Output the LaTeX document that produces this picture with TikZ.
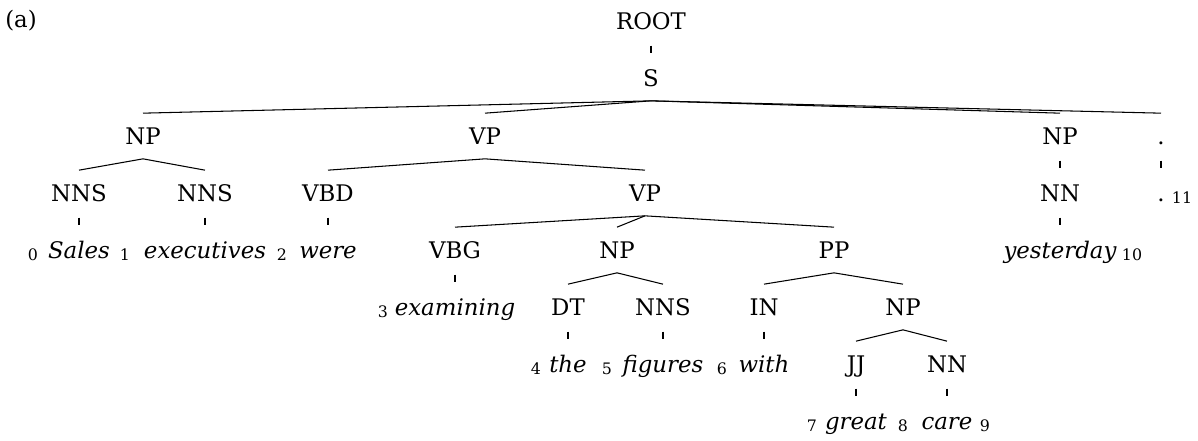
\documentclass[tikz,border=0pt]{standalone}
\usepackage{fontspec}
\setmainfont{DejaVu Serif}
\begin{document}
\begin{tikzpicture}[x=0.02cm, y=-0.02cm, line width=0.6pt,
  cat/.style={font=\fontsize{13}{15}\selectfont, text height=9.4pt, text depth=0pt, inner xsep=2pt, inner ysep=8pt},
  word/.style={cat, font=\fontsize{13}{15}\selectfont\itshape},
  idx/.style={font=\fontsize{9}{10}\selectfont, inner sep=0pt, anchor=base},
  stalk/.style={shorten <=1pt, shorten >=1pt}]
\useasboundingbox (0,0) rectangle (1198,440);
\node (panel) at (21,19) [cat, inner sep=0pt] {(a)};
% categories
\node (root) at (651,21) [cat] {ROOT};
\node (s) at (651,78) [cat] {S};
\node (np1) at (143,136) [cat] {NP};
\node (vp1) at (485,136) [cat] {VP};
\node (np2) at (1060,136) [cat] {NP};
\node (pu) at (1161,136) [cat] {.};
\node (nns1) at (79,193) [cat] {NNS};
\node (nns2) at (205,193) [cat] {NNS};
\node (vbd) at (328,193) [cat] {VBD};
\node (vp2) at (645,193) [cat] {VP};
\node (nn2) at (1060,193) [cat] {NN};
\node (vbg) at (455,250) [cat] {VBG};
\node (np3) at (617,250) [cat] {NP};
\node (pp) at (834,250) [cat] {PP};
\node (dt) at (568,307) [cat] {DT};
\node (nns3) at (663,307) [cat] {NNS};
\node (in) at (764,307) [cat] {IN};
\node (np4) at (903,307) [cat] {NP};
\node (jj) at (856,364) [cat] {JJ};
\node (nn1) at (947,364) [cat] {NN};
% words
\node (w0) at (79,250) [word] {Sales};
\node (w1) at (205,250) [word] {executives};
\node (w2) at (328,250) [word] {were};
\node (w3) at (455,307) [word] {examining};
\node (w4) at (568,364) [word] {the};
\node (w5) at (663,364) [word] {figures};
\node (w6) at (764,364) [word] {with};
\node (w7) at (856,421) [word] {great};
\node (w8) at (947,421) [word] {care};
\node (w9) at (1060,250) [word] {yesterday};
\node (w10) at (1161,193) [cat] {.};
% positions
\node (i0) at (33,260) [idx] {0};
\node (i1) at (125,260) [idx] {1};
\node (i2) at (282,260) [idx] {2};
\node (i3) at (383,317) [idx] {3};
\node (i4) at (536,374) [idx] {4};
\node (i5) at (607,374) [idx] {5};
\node (i6) at (722,374) [idx] {6};
\node (i7) at (812,431) [idx] {7};
\node (i8) at (903,431) [idx] {8};
\node (i9) at (985,431) [idx] {9};
\node (i10) at (1132,260) [idx] {10};
\node (i11) at (1182,203) [idx] {11};
% branches
\draw[stalk] (root.south) -- (s.north);
\draw (s.south) -- (np1.north);
\draw (s.south) -- (vp1.north);
\draw (s.south) -- (np2.north);
\draw (s.south) -- (pu.north);
\draw (np1.south) -- (nns1.north);
\draw (np1.south) -- (nns2.north);
\draw (vp1.south) -- (vbd.north);
\draw (vp1.south) -- (vp2.north);
\draw[stalk] (np2.south) -- (nn2.north);
\draw[stalk] (pu.south) -- (w10.north);
\draw (vp2.south) -- (vbg.north);
\draw (vp2.south) -- (np3.north);
\draw (vp2.south) -- (pp.north);
\draw (np3.south) -- (dt.north);
\draw (np3.south) -- (nns3.north);
\draw (pp.south) -- (in.north);
\draw (pp.south) -- (np4.north);
\draw (np4.south) -- (jj.north);
\draw (np4.south) -- (nn1.north);
% leaves
\draw[stalk] (nns1.south) -- (w0.north);
\draw[stalk] (nns2.south) -- (w1.north);
\draw[stalk] (vbd.south) -- (w2.north);
\draw[stalk] (vbg.south) -- (w3.north);
\draw[stalk] (dt.south) -- (w4.north);
\draw[stalk] (nns3.south) -- (w5.north);
\draw[stalk] (in.south) -- (w6.north);
\draw[stalk] (jj.south) -- (w7.north);
\draw[stalk] (nn1.south) -- (w8.north);
\draw[stalk] (nn2.south) -- (w9.north);
\end{tikzpicture}
\end{document}
